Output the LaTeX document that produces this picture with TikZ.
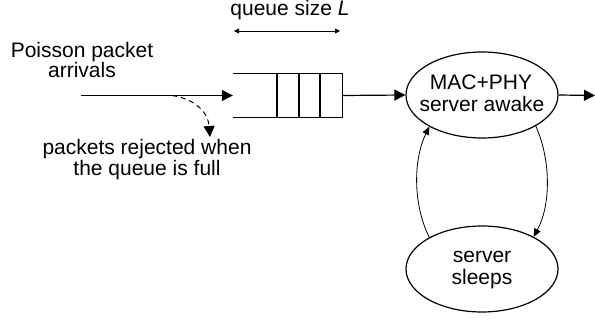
\documentclass[tikz,border=0pt]{standalone}
\usepackage{fontspec}
\setmainfont{Liberation Sans}
\usetikzlibrary{arrows.meta,shapes.geometric}
\begin{document}
\begin{tikzpicture}[x=1pt,y=1pt,
  txt/.style={anchor=base,inner sep=0pt,font=\fontsize{21}{21}\selectfont},
  state/.style={draw,ellipse,line width=1.2pt,minimum width=152pt,minimum height=86pt,inner sep=0pt},
  main/.style={line width=1.2pt,-{Triangle[length=11pt,width=11pt]}},
  thin/.style={line width=0.8pt,-{Triangle[length=8pt,width=7pt]}},
  qline/.style={line width=1.2pt}]
\useasboundingbox (0,0) rectangle (595,-320);
% texts
\node[txt] (qs) at (290,-16) {queue size \textit{L}};
\node[txt] (pa1) at (82,-58) {Poisson packet};
\node[txt] (pa2) at (82,-78) {arrivals};
\node[txt] (pr1) at (147,-155) {packets rejected when};
\node[txt] (pr2) at (147,-176) {the queue is full};
% queue size arrow
\coordinate (qsl) at (234,-31);
\coordinate (qsr) at (340,-31);
\draw[line width=0.7pt,{Triangle[length=5pt,width=5pt]}-{Triangle[length=5pt,width=5pt]}] (qsl) -- (qsr);
% queue
\node[minimum width=109pt,minimum height=43pt,inner sep=0pt] (queue) at (287.5,-95.5) {};
\draw[qline] (queue.north west) -- (queue.north east) -- (queue.south east) -- (queue.south west);
\draw[qline] (277,-74) -- (277,-117) (299,-74) -- (299,-117) (320,-74) -- (320,-117);
% states
\node[state] (awake) at (482,-95) {};
\node[txt] (aw1) at (481,-90) {MAC+PHY};
\node[txt] (aw2) at (482,-112) {server awake};
\node[state] (sleeps) at (482,-269) {};
\node[txt] (sl1) at (482,-263) {server};
\node[txt] (sl2) at (482,-285) {sleeps};
% arrows
\coordinate (src) at (81,-95.5);
\coordinate (rej) at (172,-95.5);
\coordinate (out) at (595,-95.5);
\draw[main] (src) -- (queue.west);
\draw[main] (queue.east) -- (awake.west);
\draw[main] (awake.east) -- (out);
\draw[line width=1pt,dashed,dash pattern=on 5pt off 4pt,-{Triangle[length=11pt,width=11pt]}] (rej) .. controls (195,-99) and (208,-112) .. (210,-137);
\draw[thin] (sleeps.149) .. controls (413,-205) and (413,-160) .. (awake.211);
\draw[thin] (awake.-30) .. controls (551,-160) and (551,-205) .. (sleeps.32);
\end{tikzpicture}
\end{document}
